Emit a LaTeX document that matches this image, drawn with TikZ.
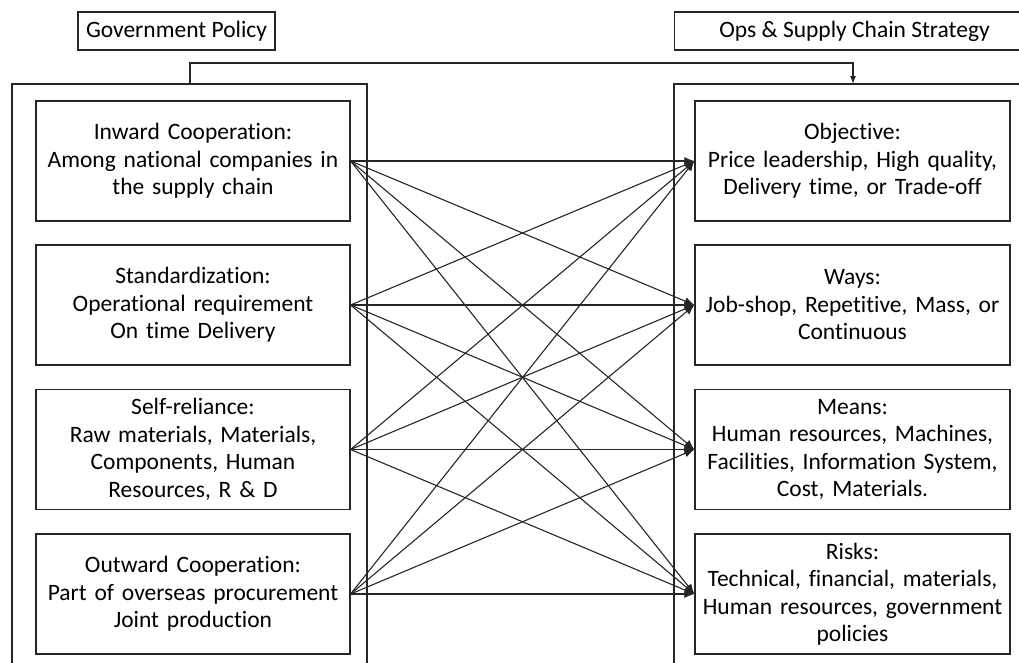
\documentclass[tikz,border=0pt]{standalone}
\usepackage{fontspec}
\setmainfont[Ligatures=NoCommon]{Carlito}
\usetikzlibrary{arrows.meta}
\definecolor{ln}{HTML}{262626}
\tikzset{
  titlebox/.style={draw=ln, line width=1.2pt, minimum height=38pt, inner sep=0pt, font=\fontsize{23.5pt}{27.5pt}\selectfont},
  itembox/.style={draw=ln, line width=1.2pt, minimum height=120pt, text width=306pt, align=center, inner sep=0pt, font=\fontsize{23.5pt}{27.5pt}\selectfont},
  frame/.style={draw=ln, line width=1.2pt},
  link/.style={draw=ln, line width=1.1pt, -{Latex[length=10pt,width=8pt]}}
}
\begin{document}
\begin{tikzpicture}[x=1pt,y=-1pt]
\useasboundingbox (0,0) rectangle (1019,662);
% title boxes
\node[titlebox, minimum width=197pt] (gp) at (176.5,31) {Government Policy};
\node[titlebox, minimum width=360pt, anchor=west] (ops) at (674,31) {Ops \& Supply Chain Strategy};
% frames
\path[frame] (12,670) -- (12,84) -- (367,84) -- (367,670);
\path[frame] (674,670) -- (674,84) -- (1030,84);
% connector between frames
\coordinate (fa) at (190,84);
\coordinate (fb) at (853,84);
\draw[ln, line width=1.2pt, -{Latex[length=8pt,width=6pt]}] (fa) -- (190,63) -- (853,63) -- (fb);
% left boxes
\node[itembox, minimum width=314pt] (l1) at (193,161) {Inward Cooperation:\\Among national companies in\\the supply chain};
\node[itembox, minimum width=314pt] (l2) at (193,305) {Standardization:\\Operational requirement\\On time Delivery};
\node[itembox, minimum width=314pt] (l3) at (193,449.5) {Self-reliance:\\Raw materials, Materials,\\Components, Human\\Resources, R \& D};
\node[itembox, minimum width=314pt] (l4) at (193,594) {Outward Cooperation:\\Part of overseas procurement\\Joint production};
% right boxes
\node[itembox, minimum width=315pt] (r1) at (852.5,161) {Objective:\\Price leadership, High quality,\\Delivery time, or Trade-off};
\node[itembox, minimum width=315pt] (r2) at (852.5,305) {Ways:\\Job-shop, Repetitive, Mass, or\\Continuous};
\node[itembox, minimum width=315pt] (r3) at (852.5,449.5) {Means:\\Human resources, Machines,\\Facilities, Information System,\\Cost, Materials.};
\node[itembox, minimum width=315pt] (r4) at (852.5,594) {Risks:\\Technical, financial, materials,\\Human resources, government\\policies};
% links
\foreach \i in {1,2,3,4}{
  \foreach \j in {1,2,3,4}{
    \draw[link] (l\i.east) -- (r\j.west);
  }
}
\end{tikzpicture}
\end{document}
